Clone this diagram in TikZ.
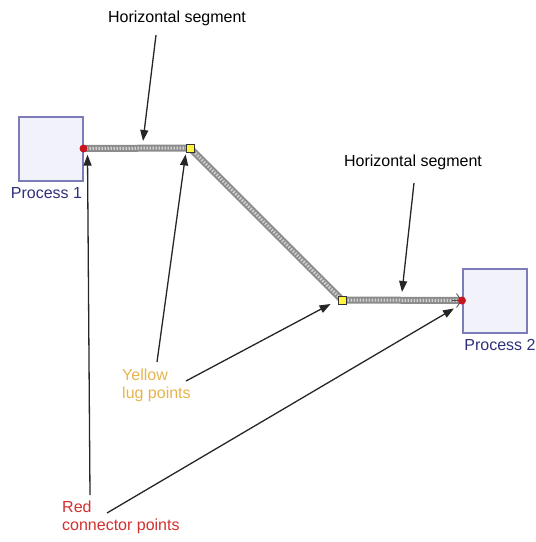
\documentclass[tikz,border=0pt]{standalone}
\usepackage{fontspec}
\setmainfont{Liberation Sans}
\usepackage{xcolor}
\usetikzlibrary{arrows.meta, calc, positioning}
\definecolor{procfill}{HTML}{F2F2FA}
\definecolor{procdraw}{HTML}{7C7CB8}
\definecolor{proctext}{HTML}{30307A}
\definecolor{lugtext}{HTML}{E5B44E}
\definecolor{redtext}{HTML}{D2302E}
\definecolor{redpt}{HTML}{C8141E}

\begin{document}
\begin{tikzpicture}[
    x=1pt, y=-1pt,
    >={Triangle[length=11pt,width=8pt]},
    every node/.style={font=\fontsize{16}{18}\selectfont},
    process/.style={draw=procdraw, fill=procfill, line width=2pt, minimum size=64pt, inner sep=0pt},
    lug/.style={draw=black!80, fill=yellow!75, line width=0.8pt, minimum size=8pt, inner sep=0pt},
    conpt/.style={circle, fill=redpt, minimum size=8pt, inner sep=0pt},
    callout/.style={->, black!85, line width=1.3pt},
]
\useasboundingbox (0,0) rectangle (536,542);
% the two processes
\node[process] (p1) at (50.5,148.5) {};
\node[process] (p2) at (495,300.5) {};
\node[proctext, anchor=north] (p1lab) at ($(p1.south)+(-4,2)$) {Process 1};
\node[proctext, anchor=north] (p2lab) at ($(p2.south)+(5,2)$) {Process 2};
% lug points along the connector
\node[lug] (lug1) at (190,148) {};
\node[lug] (lug2) at (342,300) {};
% connector band: p1 -> lug1 -> lug2 -> p2
\draw[gray!90, line width=7pt] (p1.east) -- (lug1.center) -- (lug2.center) -- (p2.west);
\draw[gray!35, line width=3pt, dash pattern=on 1.5pt off 1.5pt] (p1.east) -- (lug1.center) -- (lug2.center) -- (p2.west);
\draw[gray!60!black, line width=0.8pt, -{Straight Barb[length=5pt,width=14pt]}] ($(p2.west)+(-10,0)$) -- (p2.west);
\node[lug] at (lug1) {};
\node[lug] at (lug2) {};
% red connector points
\node[conpt] (c1) at (p1.east) {};
\node[conpt] (c2) at (p2.west) {};
% labels
\node (hseg1) at (177,18) {Horizontal segment};
\node (hseg2) at (413,162) {Horizontal segment};
\node[lugtext, align=left, anchor=north west, inner sep=0pt] (yel) at (122,369) {Yellow\\lug points};
\node[redtext, align=left, anchor=north west, inner sep=0pt] (red) at (62,501) {Red\\connector points};
% callout tails
\coordinate (t1) at (156,35);
\coordinate (t2) at (414,183);
\coordinate (t3) at (157,362);
\coordinate (t4) at (186,381);
\coordinate (t5) at (90,495);
\coordinate (t6) at (107,513);
% callout arrows
\draw[callout] (t1) -- ($(lug1.center)+(-47,-7)$);
\draw[callout] (t2) -- ($(lug2.center)+(60,-8)$);
\draw[callout] (t3) -- ($(lug1.south west)+(0,2)$);
\draw[callout] (t4) -- ($(lug2.west)+(-7,4)$);
\draw[callout] (t5) -- ($(c1.south)+(4,2)$);
\draw[callout] (t6) -- ($(c2.south west)+(-5,5)$);
\end{tikzpicture}
\end{document}
